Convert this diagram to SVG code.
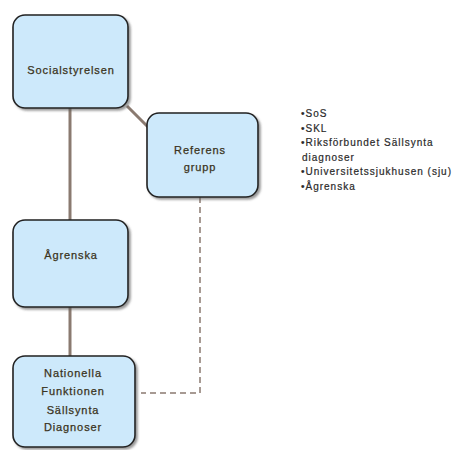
<svg xmlns="http://www.w3.org/2000/svg" width="460" height="450" viewBox="0 0 460 450">
<defs>
<filter id="sh" x="-10%" y="-10%" width="125%" height="125%">
<feDropShadow dx="2" dy="2" stdDeviation="1.2" flood-color="#555" flood-opacity="0.6"/>
</filter>
<style>
.box{fill:#cde9fb;stroke:#222;stroke-width:1.6;filter:url(#sh)}
.lbl{font-family:"Liberation Sans",Arial,sans-serif;font-size:11px;letter-spacing:0.9px;fill:#3a3320;stroke:#3a3320;stroke-width:0.25;text-anchor:middle;dominant-baseline:central}
.con{stroke:#8a7a70;stroke-width:3;fill:none}
.dash{stroke:#8a7a70;stroke-width:1.5;fill:none;stroke-dasharray:6 4}
.lst{font-family:"Liberation Sans",Arial,sans-serif;font-size:10px;letter-spacing:1px;fill:#2a2a2a;stroke:#2a2a2a;stroke-width:0.2}
</style>
</defs>
<rect width="460" height="450" fill="#fff"/>
<g id="connectors">
<line class="con" x1="70" y1="108" x2="70" y2="220"/>
<line class="con" x1="70" y1="307" x2="70" y2="356"/>
<line class="con" x1="127" y1="106" x2="148" y2="127"/>
<polyline class="dash" points="200,197 200,393 141,393"/>
</g>
<g id="socialstyrelsen">
<rect class="box" x="13" y="15" width="115" height="93" rx="12"/>
<text class="lbl" x="71" y="70">Socialstyrelsen</text>
</g>
<g id="referensgrupp">
<rect class="box" x="147" y="113" width="111" height="84" rx="12"/>
<text class="lbl" x="200" y="150">Referens</text>
<text class="lbl" x="200" y="167">grupp</text>
</g>
<g id="agrenska">
<rect class="box" x="13" y="220" width="115" height="87" rx="12"/>
<text class="lbl" x="71" y="255">Ågrenska</text>
</g>
<g id="nationella">
<rect class="box" x="13" y="356" width="122" height="91" rx="12"/>
<text class="lbl" x="73" y="373">Nationella</text>
<text class="lbl" x="73" y="391">Funktionen</text>
<text class="lbl" x="73" y="410">Sällsynta</text>
<text class="lbl" x="73" y="427">Diagnoser</text>
</g>
<g id="list">
<text class="lst" x="301" y="117">•SoS</text>
<text class="lst" x="301" y="131.5">•SKL</text>
<text class="lst" x="301" y="146">•Riksförbundet Sällsynta</text>
<text class="lst" x="302" y="160.5">diagnoser</text>
<text class="lst" x="301" y="175">•Universitetssjukhusen (sju)</text>
<text class="lst" x="301" y="190">•Ågrenska</text>
</g>
</svg>
